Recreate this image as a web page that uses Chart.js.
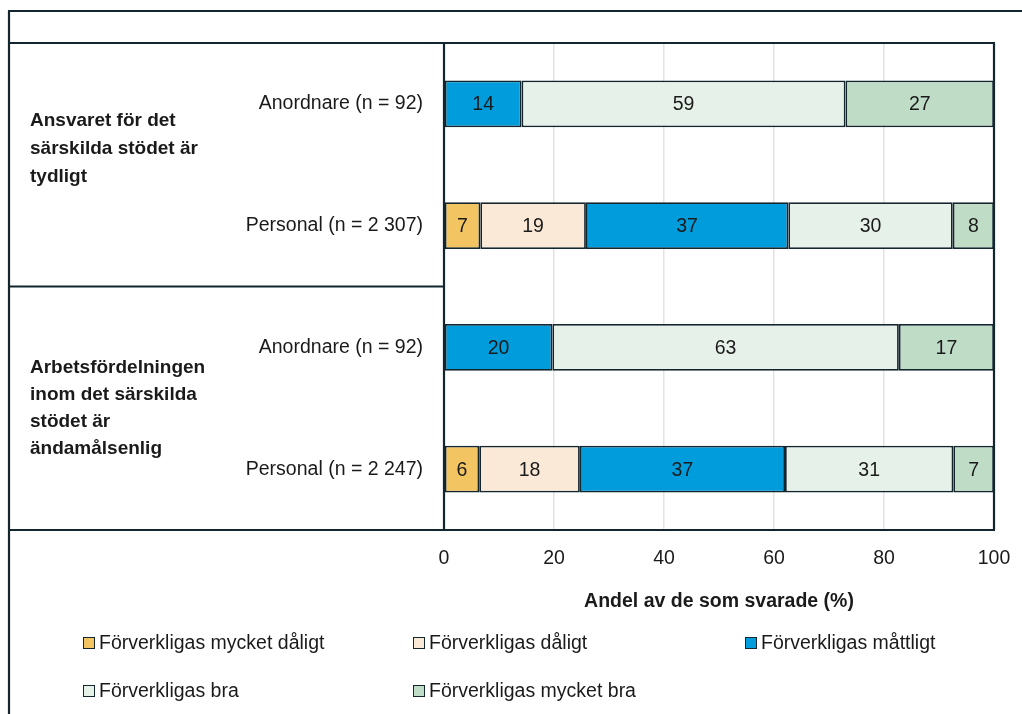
<!DOCTYPE html>
<html lang="sv">
<head>
  <meta charset="UTF-8">
  <title>Särskilt stöd – ansvar och arbetsfördelning</title>
  <script src="https://cdn.jsdelivr.net/npm/chart.js"></script>
  <style>
    * { margin: 0; padding: 0; box-sizing: border-box; }
    body { background: #fff; width: 1022px; height: 714px; overflow: hidden; }
    .wrap { position: relative; width: 1022px; height: 714px; }
    .legend { position: absolute; left: 0; top: 0; width: 1022px; height: 714px; pointer-events: none;
      font-family: 'Liberation Sans Narrow', 'Arial Narrow', 'Liberation Sans', sans-serif; font-size: 19.5px; color: #1a1a1a; }
    .legend .item { position: absolute; display: flex; align-items: center; white-space: nowrap; }
    .legend .box { width: 12px; height: 12px; border: 1.5px solid #13252d; margin-right: 4px; }
  </style>
</head>
<body>
<div class="wrap">
  <canvas id="chart" width="1022" height="714"></canvas>
  <div class="legend" id="legend"></div>
</div>

<script>
  // Data (andelar i procent, etiketterna visar avrundade värden)
  const categories = ['Anordnare (n = 92)', 'Personal (n = 2 307)', 'Anordnare (n = 92)', 'Personal (n = 2 247)'];
  const groups = [
    ['Ansvaret för det', 'särskilda stödet är', 'tydligt'],
    ['Arbetsfördelningen', 'inom det särskilda', 'stödet är', 'ändamålsenlig']
  ];
  const seriesNames = ['Förverkligas mycket dåligt', 'Förverkligas dåligt', 'Förverkligas måttligt', 'Förverkligas bra', 'Förverkligas mycket bra'];
  const mycketDaligt = [0, 6.6, 0, 6.4];
  const daligt       = [0, 19.2, 0, 18.3];
  const mattligt     = [14.1, 36.8, 19.7, 37.3];
  const bra          = [58.9, 29.9, 63.0, 30.6];
  const mycketBra    = [27.0, 7.5, 17.3, 7.4];
  const xTicks = [0, 20, 40, 60, 80, 100];
  const axisTitle = 'Andel av de som svarade (%)';

  const colors = ['#F2C462', '#FBE9D8', '#009CDB', '#E6F1E9', '#BFDCC7'];
  const lineColor = '#13252d';
  const narrow = "'Liberation Sans Narrow', 'Arial Narrow', 'Liberation Sans', sans-serif";
  const boldFont = "'Liberation Sans', Arial, sans-serif";

  const values = [mycketDaligt, daligt, mattligt, bra, mycketBra];

  // ramar, grupptexter, axeltitel och värden
  const decor = {
    id: 'decor',
    beforeDraw(chart) {
      const { ctx } = chart;
      ctx.save();
      ctx.fillStyle = '#fff';
      ctx.fillRect(0, 0, chart.width, chart.height);
      ctx.restore();
    },
    afterDatasetsDraw(chart) {
      const { ctx, chartArea: a } = chart;
      ctx.save();
      // värden i staplarna
      ctx.font = '19.5px ' + narrow;
      ctx.fillStyle = '#1a1a1a';
      ctx.textAlign = 'center';
      ctx.textBaseline = 'middle';
      chart.data.datasets.forEach((ds, i) => {
        chart.getDatasetMeta(i).data.forEach((bar, j) => {
          const v = ds.data[j];
          if (!v) return;
          ctx.fillText(String(Math.round(v)), (bar.x + bar.base) / 2, bar.y + 1);
        });
      });

      // ramlinjer
      ctx.strokeStyle = lineColor;
      ctx.lineWidth = 2.2;
      const mid = (a.top + a.bottom) / 2;
      const L = 9;
      ctx.beginPath();
      ctx.moveTo(L - 1, 11); ctx.lineTo(chart.width, 11);
      ctx.moveTo(L, 11); ctx.lineTo(L, chart.height);
      ctx.moveTo(L, a.top); ctx.lineTo(a.right + 1, a.top);
      ctx.moveTo(L, mid); ctx.lineTo(a.left, mid);
      ctx.moveTo(L, a.bottom); ctx.lineTo(a.right + 1, a.bottom);
      ctx.moveTo(a.left, a.top); ctx.lineTo(a.left, a.bottom);
      ctx.moveTo(a.right, a.top); ctx.lineTo(a.right, a.bottom);
      ctx.stroke();

      // grupptexter
      ctx.font = 'bold 19px ' + boldFont;
      ctx.textAlign = 'left';
      ctx.fillStyle = '#1a1a1a';
      const centers = [(a.top + mid) / 2 - 16, (mid + a.bottom) / 2];
      groups.forEach((lines, g) => {
        const lh = g === 0 ? 28 : 27;
        const y0 = centers[g] - (lines.length - 1) * lh / 2;
        lines.forEach((t, k) => ctx.fillText(t, 30, y0 + k * lh));
      });

      // axeltitel
      ctx.font = 'bold 19.5px ' + narrow;
      ctx.textAlign = 'center';
      ctx.fillText(axisTitle, (a.left + a.right) / 2, 602);
      ctx.restore();
    }
  };

  const chart = new Chart(document.getElementById('chart'), {
    type: 'bar',
    data: {
      labels: categories,
      datasets: seriesNames.map((name, i) => ({
        label: name,
        data: values[i],
        backgroundColor: colors[i],
        borderColor: lineColor,
        borderWidth: 1.8,
        borderSkipped: false,
        barPercentage: 0.386,
        categoryPercentage: 1
      }))
    },
    options: {
      indexAxis: 'y',
      responsive: false,
      animation: false,
      layout: { padding: { top: 43, right: 28, left: 0, bottom: 0 } },
      plugins: { legend: { display: false }, tooltip: { enabled: false } },
      scales: {
        x: {
          stacked: true,
          min: 0, max: 100,
          afterBuildTicks(scale) { scale.ticks = xTicks.map(v => ({ value: v })); },
          afterFit(scale) { scale.height = 184; scale.paddingLeft = 0; scale.paddingRight = 0; },
          border: { display: false },
          grid: { color: c => (c.tick.value === 0 || c.tick.value === 100) ? 'rgba(0,0,0,0)' : '#e3e3e3', lineWidth: 1.5, drawTicks: false },
          ticks: { padding: 17, color: '#1a1a1a', font: { family: narrow, size: 19.5 } }
        },
        y: {
          stacked: true,
          afterFit(scale) { scale.width = 444; },
          border: { display: false },
          grid: { display: false, drawTicks: false },
          ticks: { padding: 21, color: '#1a1a1a', font: { family: narrow, size: 19.5 } }
        }
      }
    },
    plugins: [decor]
  });

  // förklaring
  const legendPos = [[83, 642], [413, 642], [745, 642], [83, 690], [413, 690]];
  const legend = document.getElementById('legend');
  seriesNames.forEach((name, i) => {
    const el = document.createElement('div');
    el.className = 'item';
    el.style.left = legendPos[i][0] + 'px';
    el.style.top = (legendPos[i][1] - 11) + 'px';
    el.innerHTML = '<span class="box" style="background:' + colors[i] + '"></span>' + name;
    legend.appendChild(el);
  });
</script>
</body>
</html>
